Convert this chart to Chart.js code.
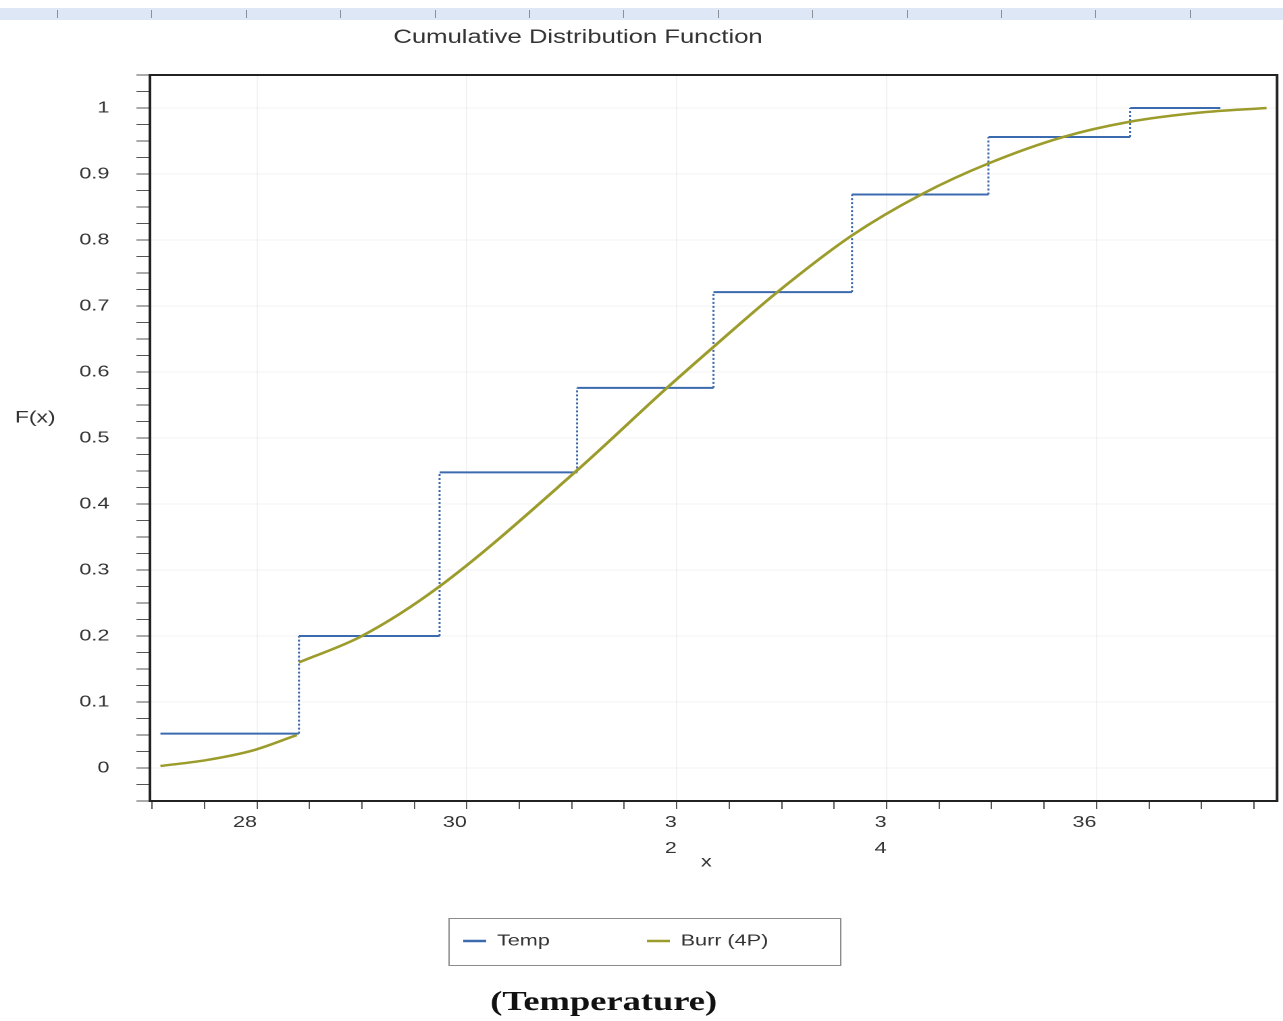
<!DOCTYPE html>
<html>
<head>
<meta charset="utf-8">
<title>Cumulative Distribution Function</title>
<script src="https://cdn.jsdelivr.net/npm/chart.js@4.4.1/dist/chart.umd.min.js"></script>
<style>
  body { margin: 0; background: #fff; }
  #wrap { position: relative; width: 1283px; height: 1021px; overflow: hidden; background: #fff; }
  #cdf { position: absolute; left: 0; top: 0; }
  /* the light blue ruler strip along the top of the page */
  #ruler { position: absolute; left: 0; top: 8px; width: 1283px; height: 12px; background: #dde7f6; }
  #ruler::after {
    content: ''; position: absolute; left: 57px; right: 0; top: 2px; height: 8px;
    background: repeating-linear-gradient(90deg, #8a8f99 0 1px, transparent 1px 94.4px);
  }
</style>
</head>
<body>
<div id="wrap">
  <!-- drawn at 950 wide and stretched to 1283, like the reference picture -->
  <canvas id="cdf" width="950" height="1021" style="width:1283px;height:1021px"></canvas>
  <div id="ruler"></div>
</div>
<script>
// 1. Data
const chartTitle = 'Cumulative Distribution Function';
const yAxisTitle = 'F(x)';
const xAxisTitle = 'x';
const caption = '(Temperature)';

// empirical CDF: jump positions and the level after each jump
const stepX = [27.08, 28.40, 29.74, 31.05, 32.35, 33.67, 34.97, 36.32, 37.18];
const stepY = [0.052, 0.200, 0.448, 0.576, 0.721, 0.869, 0.956, 1.000];

// fitted Burr (4P) curve, drawn in two pieces (gap at the first jump)
const burrX1 = [27.08, 27.52, 27.97, 28.38];
const burrY1 = [0.003, 0.012, 0.027, 0.050];
const burrX2 = [28.40, 29.00, 29.73, 31.05, 31.90, 32.35, 32.95, 33.67, 34.33, 34.97, 35.68, 36.31, 36.98, 37.62];
const burrY2 = [0.160, 0.200, 0.274, 0.451, 0.575, 0.638, 0.720, 0.807, 0.869, 0.916, 0.956, 0.979, 0.993, 1.000];

const xTickValues = [28, 30, 32, 34, 36];
const xTickText = ['28', '30', ['3', '2'], ['3', '4'], '36'];

const seriesNames = ['Temp', 'Burr (4P)'];
const stepColor = '#3c6aae';
const burrColor = '#9c9c2c';

// 2. Build datasets from the arrays
function stepPoints() {
    const pts = [];
    for (let i = 0; i < stepY.length; i++) {
        pts.push({ x: stepX[i], y: stepY[i] });
        pts.push({ x: stepX[i + 1], y: stepY[i] });
        if (i + 1 < stepY.length) pts.push({ x: stepX[i + 1], y: stepY[i + 1] });
    }
    return pts;
}

function burrPoints() {
    const pts = burrX1.map((x, i) => ({ x: x, y: burrY1[i] }));
    pts.push({ x: burrX2[0], y: null });
    burrX2.forEach((x, i) => pts.push({ x: x, y: burrY2[i] }));
    return pts;
}

// 3. Text, frame and legend drawn on top of the chart
const FONT = '"Liberation Sans", Arial, sans-serif';

const decorPlugin = {
    id: 'decor',
    afterDraw(chart) {
        const { ctx, chartArea: a } = chart;
        ctx.save();

        // plot frame
        ctx.strokeStyle = '#222';
        ctx.lineWidth = 2;
        ctx.strokeRect(a.left, a.top, a.right - a.left, a.bottom - a.top);

        ctx.fillStyle = '#333';
        ctx.textBaseline = 'middle';

        ctx.font = '19px ' + FONT;
        ctx.textAlign = 'center';
        ctx.fillText(chartTitle, 428, 38);

        ctx.font = '17px ' + FONT;
        ctx.textAlign = 'left';
        ctx.fillText(yAxisTitle, 11, 418);

        ctx.font = '16px ' + FONT;
        ctx.textAlign = 'center';
        ctx.fillText(xAxisTitle, 523, 862);

        // legend box
        ctx.strokeStyle = '#8c8c8c';
        ctx.lineWidth = 1;
        ctx.strokeRect(332.5, 918.5, 290, 47);
        const items = [
            { label: seriesNames[0], color: stepColor, x: 343 },
            { label: seriesNames[1], color: burrColor, x: 479 }
        ];
        ctx.font = '16px ' + FONT;
        ctx.textAlign = 'left';
        items.forEach(it => {
            ctx.strokeStyle = it.color;
            ctx.lineWidth = 2.5;
            ctx.beginPath();
            ctx.moveTo(it.x, 941);
            ctx.lineTo(it.x + 17, 941);
            ctx.stroke();
            ctx.fillStyle = '#333';
            ctx.fillText(it.label, it.x + 25, 941);
        });

        // caption under the figure
        ctx.fillStyle = '#111';
        ctx.font = 'bold 27px "Liberation Serif", "Times New Roman", serif';
        ctx.textAlign = 'center';
        ctx.fillText(caption, 447, 1003);

        ctx.restore();
    }
};

// 4. Chart
Chart.defaults.font.family = FONT;
Chart.defaults.color = '#333';

const isTenth = v => Math.abs(v * 10 - Math.round(v * 10)) < 1e-6;

new Chart(document.getElementById('cdf'), {
    type: 'line',
    data: {
        datasets: [
            {
                label: seriesNames[1],
                data: burrPoints(),
                borderColor: burrColor,
                borderWidth: 2.5,
                pointRadius: 0,
                cubicInterpolationMode: 'monotone',
                spanGaps: false,
                fill: false
            },
            {
                label: seriesNames[0],
                data: stepPoints(),
                borderColor: stepColor,
                borderWidth: 2,
                pointRadius: 0,
                tension: 0,
                fill: false,
                segment: {
                    borderDash: c => c.p0.parsed.x === c.p1.parsed.x ? [2, 2] : undefined,
                    borderWidth: c => c.p0.parsed.x === c.p1.parsed.x ? 1.5 : undefined
                }
            }
        ]
    },
    options: {
        responsive: false,
        animation: false,
        devicePixelRatio: 2,
        layout: { padding: { left: 0, top: 75, right: 4.4, bottom: 160 } },
        plugins: {
            legend: { display: false },
            title: { display: false },
            tooltip: { enabled: false }
        },
        scales: {
            x: {
                type: 'linear',
                min: 26.98,
                max: 37.72,
                border: { display: false },
                grid: {
                    color: c => (c.tick && xTickValues.includes(c.tick.value)) ? 'rgba(0,0,0,0.05)' : 'rgba(0,0,0,0)',
                    tickColor: '#555',
                    tickLength: 8
                },
                ticks: {
                    stepSize: 0.5,
                    includeBounds: false,
                    autoSkip: false,
                    maxRotation: 0,
                    align: 'end',
                    padding: 1,
                    color: '#333',
                    font: { size: 16, lineHeight: 1.6 },
                    callback: v => {
                        const i = xTickValues.indexOf(v);
                        return i >= 0 ? xTickText[i] : '';
                    }
                },
                afterFit: s => { s.height = 60; }
            },
            y: {
                min: -0.05,
                max: 1.05,
                border: { display: false },
                grid: {
                    color: c => (c.tick && isTenth(c.tick.value) && c.tick.value >= 0 && c.tick.value <= 1) ? 'rgba(0,0,0,0.05)' : 'rgba(0,0,0,0)',
                    tickColor: '#555',
                    tickLength: 10
                },
                ticks: {
                    stepSize: 0.025,
                    autoSkip: false,
                    padding: 20,
                    color: '#333',
                    font: { size: 16 },
                    callback: v => {
                        const r = Math.round(v * 10);
                        return (isTenth(v) && r >= 0 && r <= 10) ? String(r / 10) : '';
                    }
                },
                afterFit: s => { s.width = 111; }
            }
        }
    },
    plugins: [decorPlugin]
});
</script>
</body>
</html>
